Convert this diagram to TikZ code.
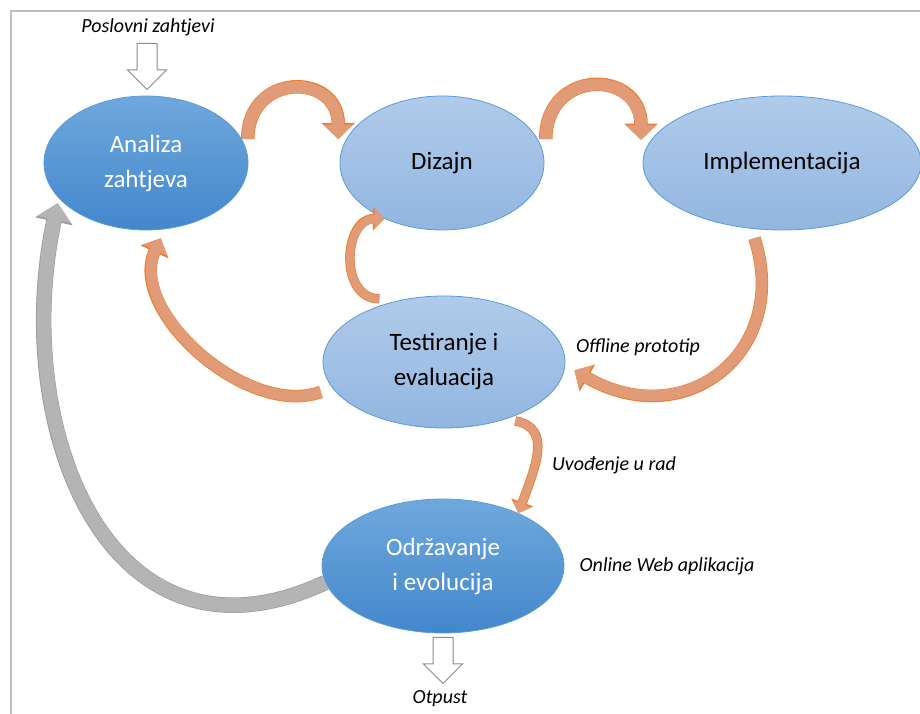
\documentclass[tikz,border=0pt]{standalone}
\usepackage{fontspec}
\setmainfont{Carlito}
\usetikzlibrary{shapes.geometric,shapes.arrows,arrows.meta}
\definecolor{darktop}{HTML}{6FA8DC}
\definecolor{darkbot}{HTML}{4387CC}
\definecolor{lighttop}{HTML}{B0CBEA}
\definecolor{lightbot}{HTML}{92B6E1}
\definecolor{nodeedge}{HTML}{5B9BD5}
\definecolor{flowfill}{HTML}{E19B76}
\definecolor{flowedge}{HTML}{ED7D31}
\definecolor{backfill}{HTML}{B4B4B4}
\definecolor{backedge}{HTML}{9C9C9C}
\definecolor{hollowedge}{HTML}{8C8C8C}
\definecolor{framegray}{HTML}{BFBFBF}
\begin{document}
\begin{tikzpicture}[x=1pt,y=1pt,
  phase/.style={ellipse,draw=nodeedge,line width=0.8pt,inner sep=0pt,align=center,
    font=\fontsize{25}{35}\selectfont},
  dark/.style={phase,top color=darktop,bottom color=darkbot,text=white},
  light/.style={phase,top color=lighttop,bottom color=lightbot,text=black},
  note/.style={anchor=base,font=\fontsize{20}{24}\selectfont\itshape},
  hollow/.style={single arrow,draw=hollowedge,fill=white,line width=1pt,rotate=-90,
    anchor=tail,minimum height=46pt,inner xsep=0pt,inner ysep=9.5pt,
    single arrow head extend=9.5pt,single arrow head indent=0pt},
  block/.style n args={3}{line width=#1,draw=#2,
    -{Triangle[width=0pt 2.4,length=0pt 1.2]},
    preaction={draw=#3,line width=#1+1.5pt}},
  flow/.style={block={#1}{flowfill}{flowedge}},
  back/.style={block={#1}{backfill}{backedge}}]
\useasboundingbox (0,0) rectangle (920,714);
\draw[framegray,line width=2pt] (10.5,0) |- (920,703);

\node[dark,minimum width=204pt,minimum height=134pt] (ana) at (146,551) {Analiza\\zahtjeva};
\node[light,minimum width=204pt,minimum height=134pt] (diz) at (442,551) {Dizajn};
\node[light,minimum width=278pt,minimum height=134pt] (imp) at (782,551) {Implementacija};
\node[light,minimum width=242pt,minimum height=132pt] (test) at (444,352) {Testiranje i\\evaluacija};
\node[dark,minimum width=242pt,minimum height=134pt] (odr) at (443,148) {Održavanje\\i evolucija};

\node[note] (poslovni) at (148,681) {Poslovni zahtjevi};
\node[note] (offline) at (638,361) {Offline prototip};
\node[note] (uvod) at (614,243) {Uvođenje u rad};
\node[note] (online) at (667,142) {Online Web aplikacija};
\node[note] (otpust) at (440,10) {Otpust};

\node[hollow] (inarr) at (147,671) {};
\node[hollow] (outarr) at (443,77) {};

\draw[flow=12pt] ([xshift=6pt]ana.14) to[out=90,in=90,looseness=1.9] ([xshift=-8pt]diz.166);
\draw[flow=12pt] ([xshift=8pt]diz.14) to[out=90,in=90,looseness=1.9] ([xshift=-10pt]imp.170);
\draw[flow=11pt,shorten <=10pt] (imp.245) to[out=-72,in=-30,looseness=1.45] ([xshift=10pt]test.-4);
\draw[flow=8pt] ([yshift=7pt]test.139) to[out=180,in=180,looseness=1.3] (diz.224);
\draw[flow=11pt,shorten <=12pt,shorten >=10pt] (test.193) to[out=200,in=245] (ana.-74);
\draw[flow=8pt,shorten <=10pt] (test.-43) to[out=-10,in=70,looseness=1.3] (odr.35);
\draw[back=14pt,shorten >=5pt] (odr.188) to[out=205,in=258,looseness=1.3] (ana.202);
\end{tikzpicture}
\end{document}
